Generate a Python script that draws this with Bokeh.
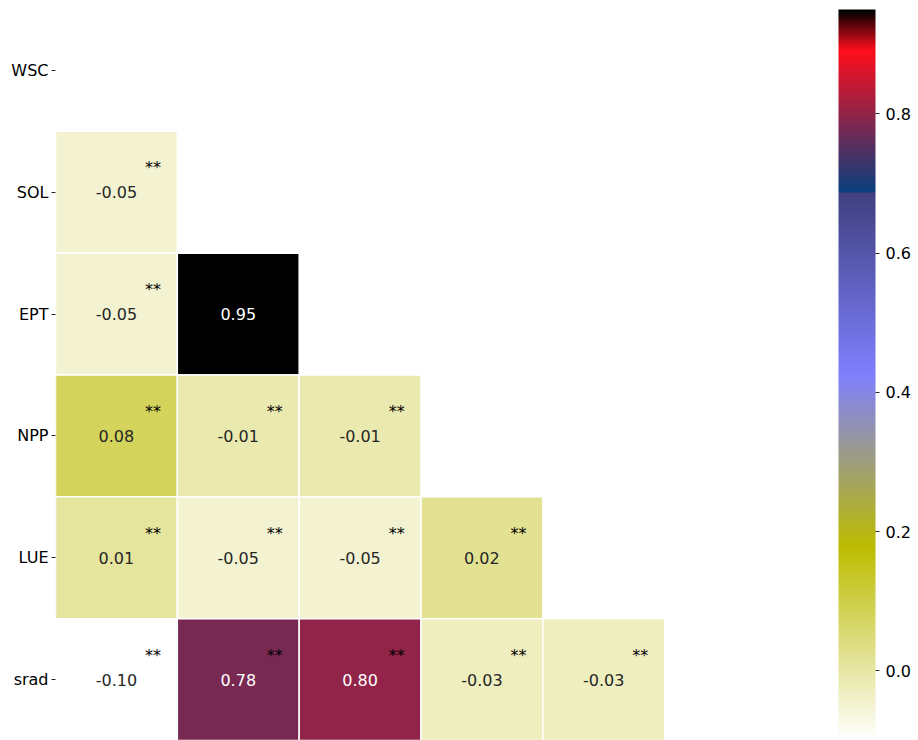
import numpy as np
from bokeh.plotting import figure
from bokeh.models import (ColumnDataSource, LinearColorMapper, ColorBar, FixedTicker,
                          Range1d, PrintfTickFormatter)
from bokeh.transform import transform
from bokeh.core.properties import value
from bokeh.embed import file_html
from bokeh.resources import INLINE

# Variables in matrix order (top row first)
variables = ["WSC", "SOL", "EPT", "NPP", "LUE", "srad"]

# Lower-triangle correlation coefficients, one list per row
sol_r = [-0.05]
ept_r = [-0.05, 0.95]
npp_r = [0.08, -0.01, -0.01]
lue_r = [0.01, -0.05, -0.05, 0.02]
srad_r = [-0.10, 0.78, 0.80, -0.03, -0.03]

# Significance markers for the same cells
sol_sig = ["**"]
ept_sig = ["**", ""]
npp_sig = ["**", "**", "**"]
lue_sig = ["**", "**", "**", "**"]
srad_sig = ["**", "**", "**", "**", "**"]

colorbar_ticks = [0.0, 0.2, 0.4, 0.6, 0.8]
vmin, vmax = -0.10, 0.95

FONT = "DejaVu Sans"


def segment_lut(segs, n=256):
    """Build a lookup table from (x, y_left, y_right) segment data."""
    seg = np.asarray(segs, dtype=float)
    x, y0, y1 = seg[:, 0], seg[:, 1], seg[:, 2]
    xi = np.linspace(0, 1, n)
    ind = np.searchsorted(x, xi)[1:-1]
    dist = (xi[1:-1] - x[ind - 1]) / (x[ind] - x[ind - 1])
    lut = np.concatenate([[y1[0]], dist * (y0[ind] - y1[ind - 1]) + y1[ind - 1], [y0[-1]]])
    return np.clip(lut, 0, 1)


def reverse_segs(segs):
    return [(1.0 - x, y1, y0) for x, y0, y1 in reversed(segs)]


# gist_stern segment data, reversed
stern = {
    "red": [(0.000, 0.000, 0.000), (0.0547, 1.000, 1.000),
            (0.250, 0.027, 0.250), (1.000, 1.000, 1.000)],
    "green": [(0.0, 0.0, 0.0), (1.0, 1.0, 1.0)],
    "blue": [(0.000, 0.000, 0.000), (0.500, 1.000, 1.000),
             (0.735, 0.000, 0.000), (1.000, 1.000, 1.000)],
}
r = segment_lut(reverse_segs(stern["red"]))
g = segment_lut(reverse_segs(stern["green"]))
b = segment_lut(reverse_segs(stern["blue"]))
palette = ["#%02x%02x%02x" % (int(round(rr * 255)), int(round(gg * 255)), int(round(bb * 255)))
           for rr, gg, bb in zip(r, g, b)]


def cell_color(v):
    idx = int(np.floor((v - vmin) / (vmax - vmin) * len(palette)))
    idx = min(max(idx, 0), len(palette) - 1)
    return palette[idx]


def luminance(hexcol):
    rgb = [int(hexcol[i:i + 2], 16) / 255 for i in (1, 3, 5)]
    rgb = [c / 12.92 if c <= 0.03928 else ((c + 0.055) / 1.055) ** 2.4 for c in rgb]
    return 0.2126 * rgb[0] + 0.7152 * rgb[1] + 0.0722 * rgb[2]


rows = [("SOL", sol_r, sol_sig), ("EPT", ept_r, ept_sig), ("NPP", npp_r, npp_sig),
        ("LUE", lue_r, lue_sig), ("srad", srad_r, srad_sig)]

n = len(variables)
xs, ys, vals, labels, tcols, sigs = [], [], [], [], [], []
for name, row_vals, row_sig in rows:
    ri = variables.index(name)
    for ci, (v, s) in enumerate(zip(row_vals, row_sig)):
        xs.append(ci + 0.5)
        ys.append(n - ri - 0.5)
        vals.append(v)
        labels.append("%.2f" % v)
        tcols.append("#262626" if luminance(cell_color(v)) > 0.408 else "#ffffff")
        sigs.append(s)

src = ColumnDataSource(dict(x=xs, y=ys, v=vals, label=labels, tcol=tcols, sig=sigs,
                            sx=[x + 0.3 for x in xs], sy=[y + 0.2 for y in ys]))

mapper = LinearColorMapper(palette=palette, low=vmin, high=vmax)

p = figure(width=918, height=740, x_range=Range1d(0, n), y_range=Range1d(0, n),
           output_backend="svg", toolbar_location=None,
           min_border_left=55, min_border_top=9, min_border_bottom=0, min_border_right=132)
p.outline_line_color = None
p.grid.visible = False
p.xaxis.visible = False

p.rect(x="x", y="y", width=1, height=1, source=src,
       fill_color=transform("v", mapper), line_color="white", line_width=1.5)

p.text(x="x", y="y", text="label", source=src, text_color="tcol",
       text_align="center", text_baseline="middle",
       text_font=value(FONT), text_font_size="16px")
p.text(x="sx", y="sy", text="sig", source=src, text_color="black",
       text_align="center", text_baseline="middle",
       text_font=value(FONT), text_font_size="16px")

yax = p.yaxis[0]
yax.ticker = FixedTicker(ticks=[n - i - 0.5 for i in range(n)])
yax.major_label_overrides = {n - i - 0.5: name for i, name in enumerate(variables)}
yax.axis_line_color = None
yax.minor_tick_line_color = None
yax.major_tick_in = 0
yax.major_tick_out = 4
yax.major_tick_line_color = "#262626"
yax.major_label_standoff = 3
yax.major_label_text_font = FONT
yax.major_label_text_font_size = "16px"
yax.major_label_text_color = "#000000"

cbar = ColorBar(color_mapper=mapper, ticker=FixedTicker(ticks=colorbar_ticks),
                formatter=PrintfTickFormatter(format="%.1f"),
                width=37, height=731, location=(52, 0), margin=0, padding=0,
                bar_line_color=None, border_line_color=None, background_fill_color=None,
                major_tick_in=0, major_tick_out=4, major_tick_line_color="#262626",
                minor_tick_line_color=None, label_standoff=6,
                major_label_text_font=FONT, major_label_text_font_size="16px",
                major_label_text_color="#000000")
p.add_layout(cbar, "right")

open("out.html", "w").write(file_html(p, INLINE))
